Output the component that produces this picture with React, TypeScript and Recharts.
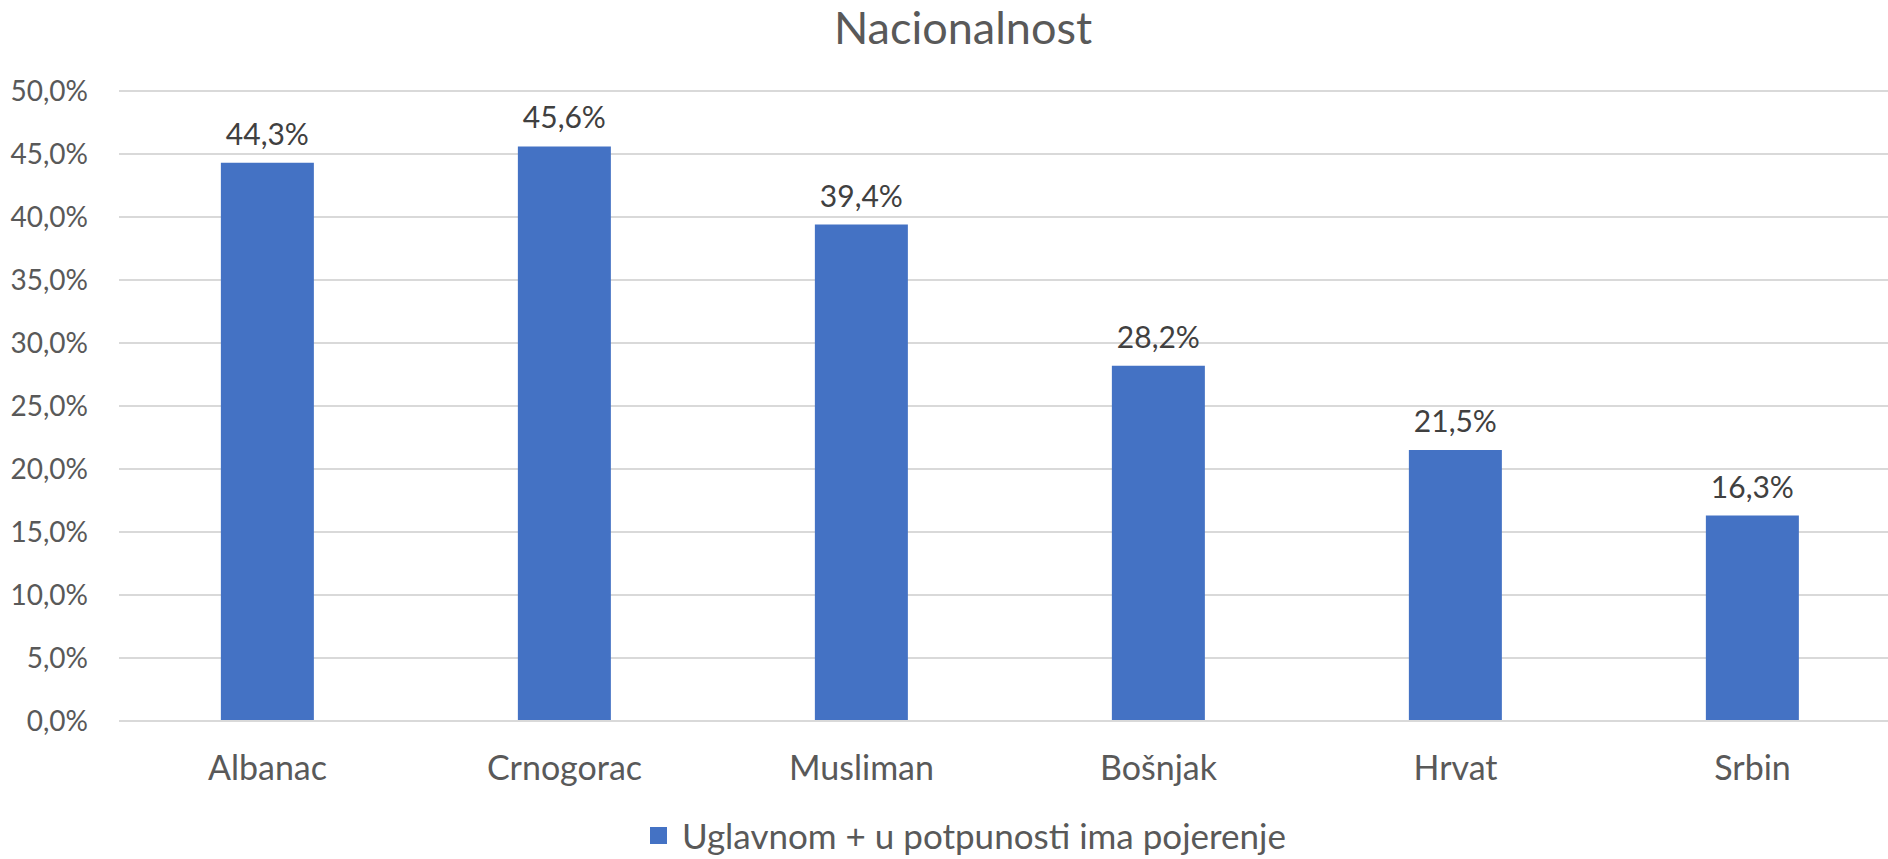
import { BarChart, Bar, XAxis, YAxis, CartesianGrid, Legend, LabelList } from 'recharts';

const categories = ['Albanac', 'Crnogorac', 'Musliman', 'Bošnjak', 'Hrvat', 'Srbin'];
const trustValues = [44.3, 45.6, 39.4, 28.2, 21.5, 16.3];
const yTicks = [0, 5, 10, 15, 20, 25, 30, 35, 40, 45, 50];
const seriesName = 'Uglavnom + u potpunosti ima pojerenje';

const FONT = 'Lato, "Open Sans", sans-serif';
const fmt = (v: number) => `${v.toFixed(1).replace('.', ',')}%`;

const data = categories.map((name, i) => ({ name, value: trustValues[i] }));

function LegendContent() {
  return (
    <div
      style={{
        display: 'flex',
        justifyContent: 'center',
        alignItems: 'center',
        fontFamily: FONT,
        fontSize: 35,
        color: '#595959',
      }}
    >
      <span style={{ width: 17, height: 17, background: '#4472C4', marginRight: 15 }} />
      <span>{seriesName}</span>
    </div>
  );
}

export default function App() {
  return (
    <div
      style={{
        position: 'fixed',
        top: 0,
        left: 0,
        width: 1888,
        height: 859,
        overflow: 'hidden',
        background: '#fff',
      }}
    >
      <div
        style={{
          position: 'absolute',
          top: 0,
          left: 0,
          width: 1926,
          textAlign: 'center',
          fontFamily: FONT,
          fontSize: 45,
          lineHeight: '54px',
          color: '#595959',
        }}
      >
        Nacionalnost
      </div>
      <BarChart
        width={1910}
        height={859}
        data={data}
        margin={{ top: 91, right: 9, left: 0, bottom: 0 }}
        barCategoryGap="34.3%"
      >
        <CartesianGrid vertical={false} stroke="#D9D9D9" strokeWidth={2} />
        <XAxis
          dataKey="name"
          height={138}
          axisLine={{ stroke: '#D9D9D9', strokeWidth: 2 }}
          tickLine={false}
          tickSize={0}
          tickMargin={35}
          interval={0}
          tick={{ fill: '#595959', fontSize: 34, fontFamily: FONT }}
        />
        <YAxis
          width={119}
          domain={[0, 50]}
          ticks={yTicks}
          interval={0}
          axisLine={false}
          tickLine={false}
          tickSize={0}
          tickMargin={31}
          tickFormatter={fmt}
          tick={{ fill: '#595959', fontSize: 28, fontFamily: FONT }}
        />
        <Legend
          verticalAlign="middle"
          align="center"
          layout="horizontal"
          wrapperStyle={{ top: 814, left: 0, width: 1936 }}
          content={<LegendContent />}
        />
        <Bar dataKey="value" name={seriesName} fill="#4472C4" isAnimationActive={false}>
          <LabelList
            dataKey="value"
            position="top"
            offset={18}
            formatter={(v: any) => fmt(Number(v))}
            style={{ fill: '#404040', fontSize: 30, fontFamily: FONT }}
          />
        </Bar>
      </BarChart>
    </div>
  );
}
